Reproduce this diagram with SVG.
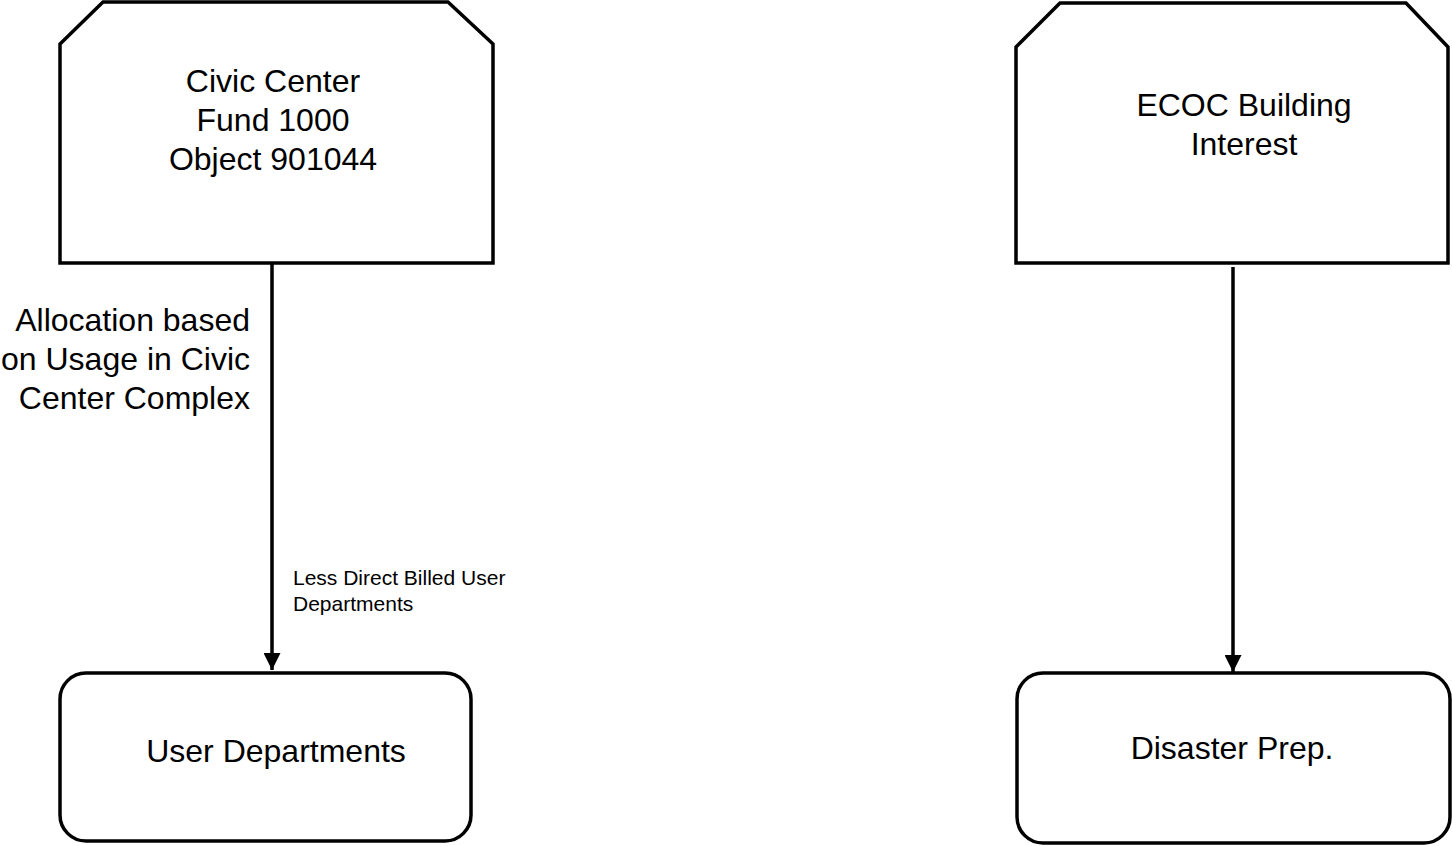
<svg xmlns="http://www.w3.org/2000/svg" width="1452" height="846" viewBox="0 0 1452 846">
<style>
.shape{fill:#fff;stroke:#000;stroke-width:3.5}
.conn{fill:none;stroke:#000;stroke-width:3.5}
.big{font-family:"Liberation Sans",Arial,sans-serif;font-size:32px;fill:#000}
.small{font-family:"Liberation Sans",Arial,sans-serif;font-size:21px;fill:#000}
</style>
<defs>
<marker id="arrow" markerUnits="userSpaceOnUse" markerWidth="17" markerHeight="17" refX="17" refY="8.5" orient="auto">
<path d="M0,0 L17,8.5 L0,17 Z" fill="#000"/>
</marker>
</defs>
<rect width="1452" height="846" fill="#fff"/>
<g id="connectors">
<line class="conn" x1="272" y1="263" x2="272" y2="670" marker-end="url(#arrow)"/>
<line class="conn" x1="1233" y1="267" x2="1233" y2="672" marker-end="url(#arrow)"/>
<text class="big" x="250" y="331" text-anchor="end">Allocation based</text>
<text class="big" x="250" y="370" text-anchor="end">on Usage in Civic</text>
<text class="big" x="250" y="409" text-anchor="end">Center Complex</text>
<text class="small" x="293" y="585">Less Direct Billed User</text>
<text class="small" x="293" y="611">Departments</text>
</g>
<g id="civic-center">
<polygon class="shape" points="60,44 103,2 448,2 493,44 493,263 60,263"/>
<text class="big" x="273" y="92" text-anchor="middle">Civic Center</text>
<text class="big" x="273" y="131" text-anchor="middle">Fund 1000</text>
<text class="big" x="273" y="170" text-anchor="middle">Object 901044</text>
</g>
<g id="ecoc-building">
<polygon class="shape" points="1016,47 1060,3 1406,3 1448,47 1448,263 1016,263"/>
<text class="big" x="1244" y="116" text-anchor="middle">ECOC Building</text>
<text class="big" x="1244" y="155" text-anchor="middle">Interest</text>
</g>
<g id="user-departments">
<rect class="shape" x="60" y="673" width="411" height="168" rx="26" ry="26"/>
<text class="big" x="276" y="762" text-anchor="middle">User Departments</text>
</g>
<g id="disaster-prep">
<rect class="shape" x="1017" y="673" width="433" height="170" rx="26" ry="26"/>
<text class="big" x="1232" y="759" text-anchor="middle">Disaster Prep.</text>
</g>
</svg>
